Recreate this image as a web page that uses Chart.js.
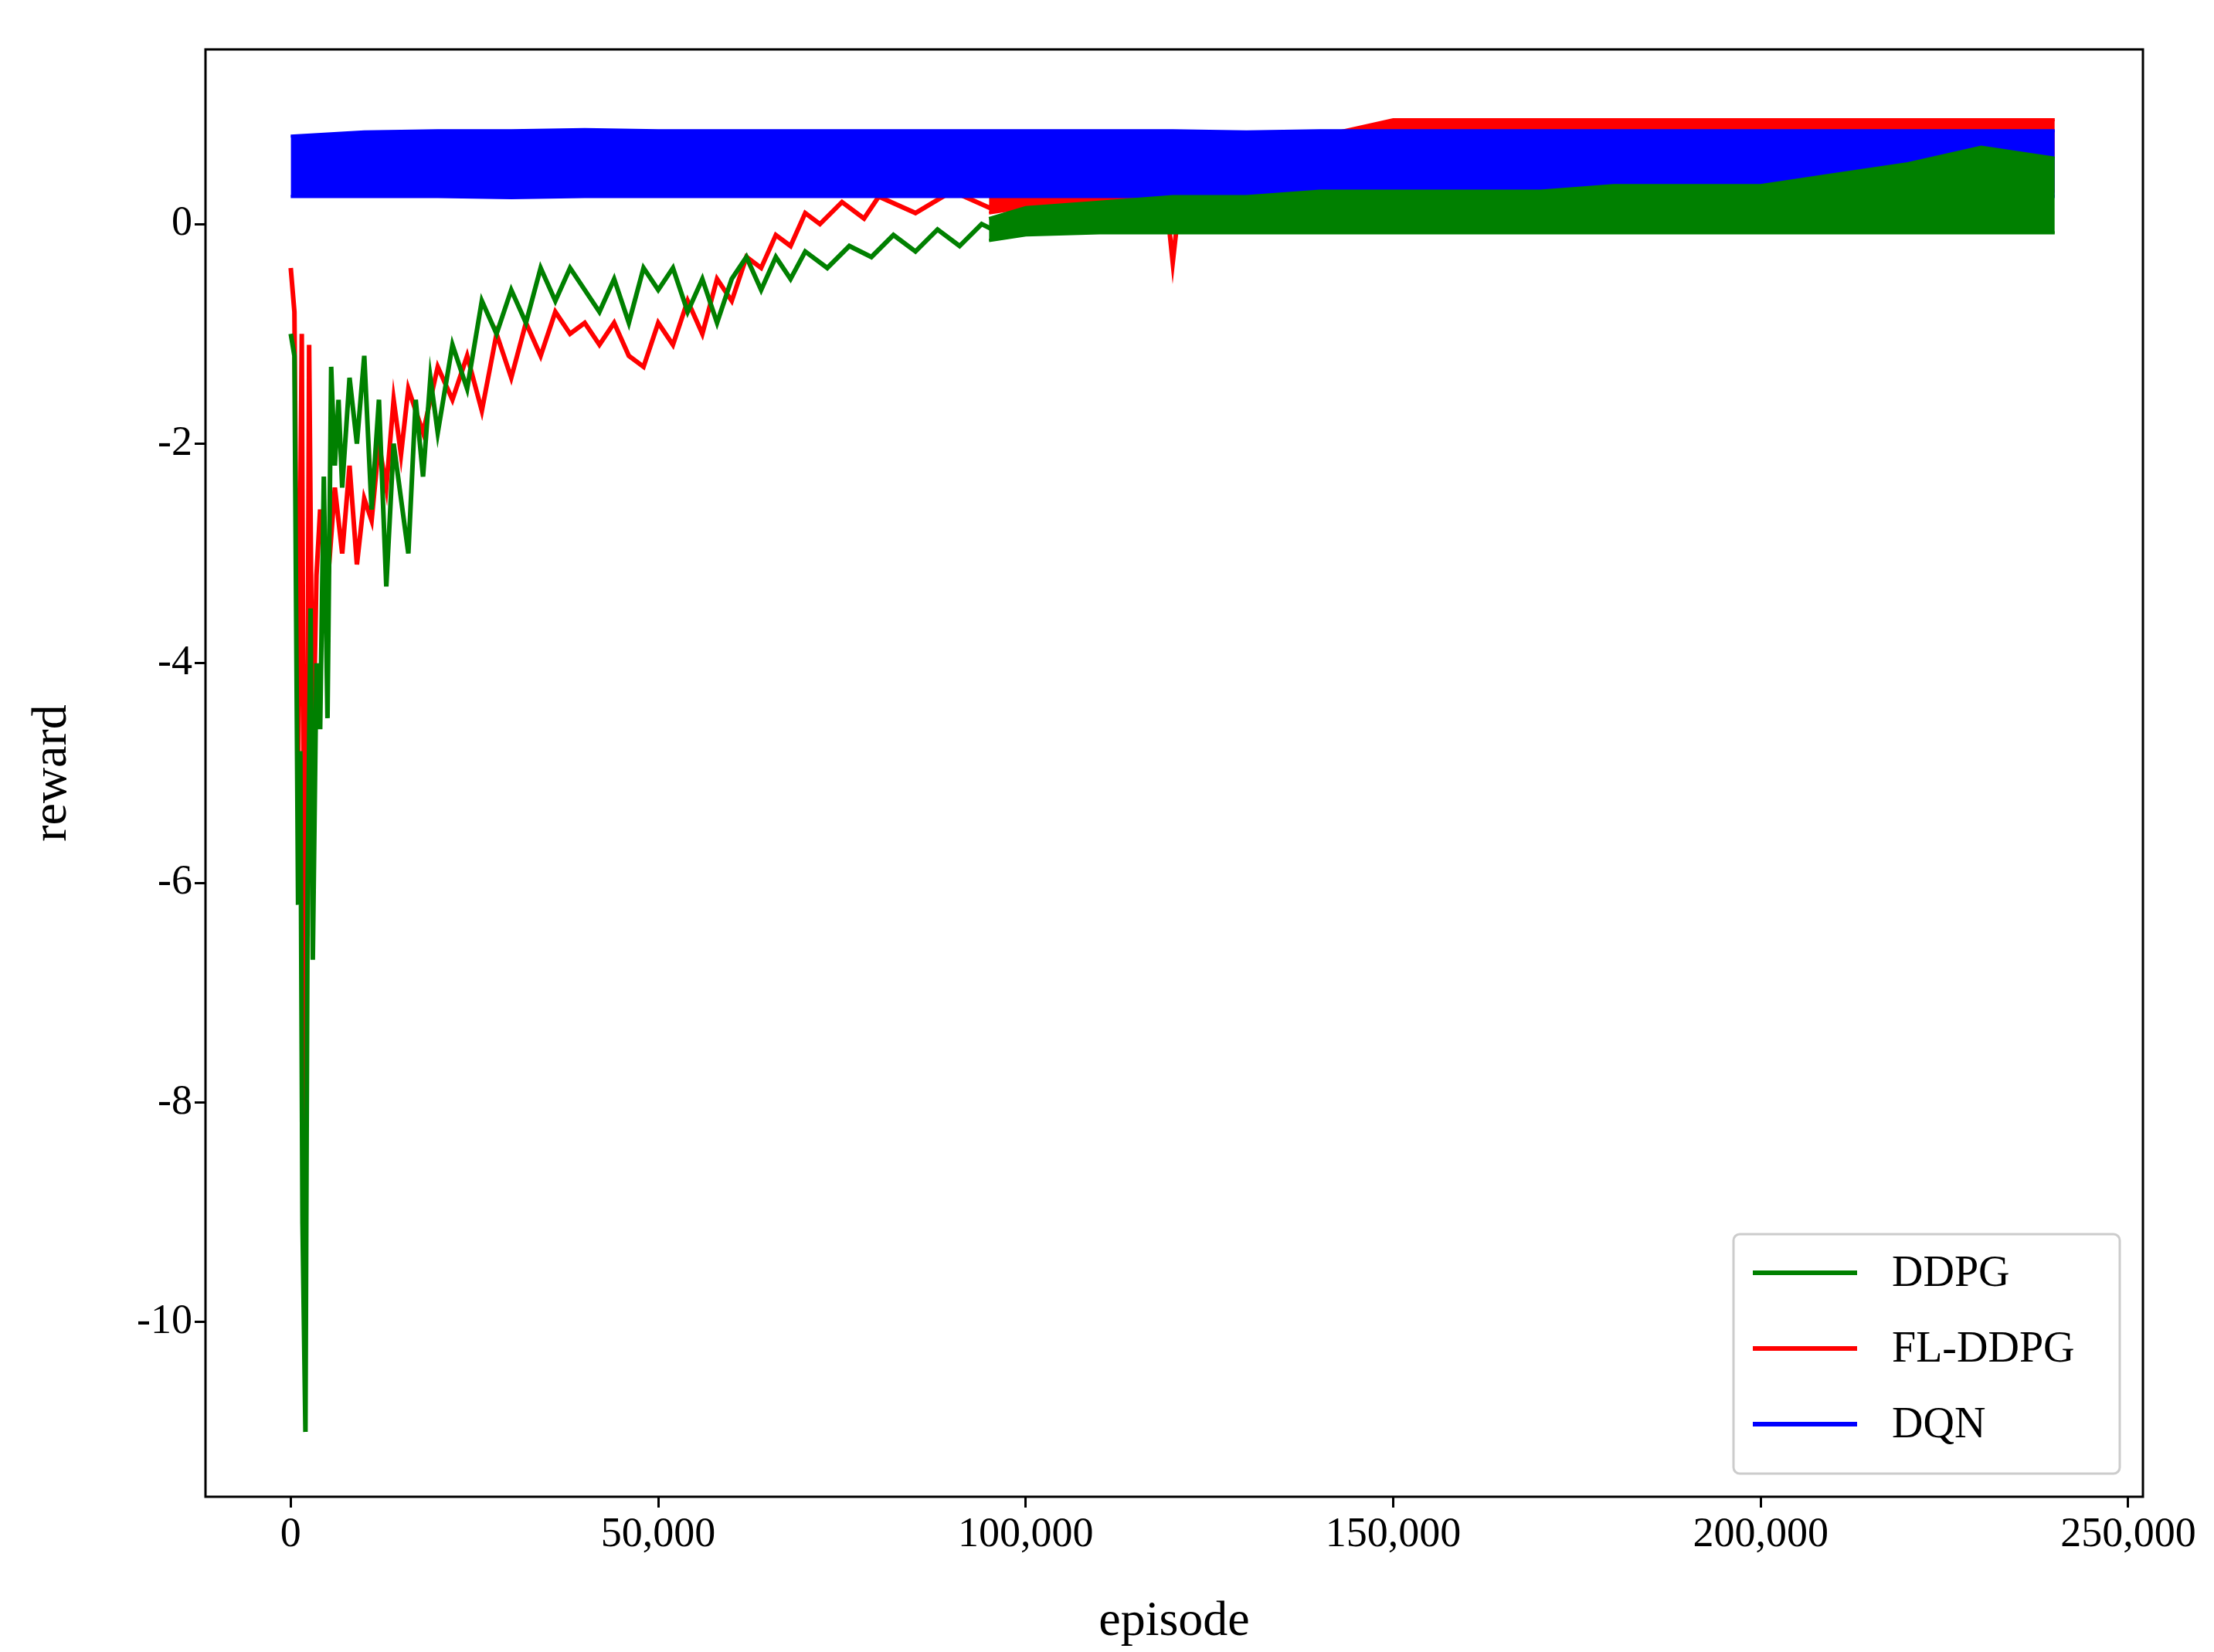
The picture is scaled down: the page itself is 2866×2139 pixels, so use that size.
<!DOCTYPE html>
<html><head><meta charset="utf-8">
<script src="https://cdn.jsdelivr.net/npm/chart.js@4.4.1/dist/chart.umd.min.js"></script>
<style>html,body{margin:0;padding:0;background:#fff}</style>
</head><body>
<canvas id="c" width="2866" height="2139"></canvas>
<script>
const xTicks = [0, 50000, 100000, 150000, 200000, 250000];
const yTicks = [-10, -8, -6, -4, -2, 0];
const seriesNames = ['DDPG', 'FL-DDPG', 'DQN'];

// early noisy curves
const ddpgX = [0,500,1000,1300,1600,2000,2300,2700,3000,3500,4000,4500,5000,5500,6000,6500,7000,8000,9000,10000,11000,12000,13000,14000,15000,16000,17000,18000,19000,20000,22000,24000,26000,28000,30000,32000,34000,36000,38000,40000,42000,44000,46000,48000,50000,52000,54000,56000,58000,60000,62000,64000,66000,68000,70000,73000,76000,79000,82000,85000,88000,91000,94000,97000,100000];
const ddpgY = [-1.0,-1.2,-6.2,-4.8,-9.1,-11.0,-6.0,-3.5,-6.7,-4.0,-4.6,-2.3,-4.5,-1.3,-2.2,-1.6,-2.4,-1.4,-2.0,-1.2,-2.6,-1.6,-3.3,-2.0,-2.5,-3.0,-1.6,-2.3,-1.4,-1.9,-1.1,-1.5,-0.7,-1.0,-0.6,-0.9,-0.4,-0.7,-0.4,-0.6,-0.8,-0.5,-0.9,-0.4,-0.6,-0.4,-0.8,-0.5,-0.9,-0.5,-0.3,-0.6,-0.3,-0.5,-0.25,-0.4,-0.2,-0.3,-0.1,-0.25,-0.05,-0.2,0.0,-0.1,0.0];
const flX = [0,500,1000,1500,2000,2500,3000,3500,4000,5000,6000,7000,8000,9000,10000,11000,12000,13000,14000,15000,16000,18000,20000,22000,24000,26000,28000,30000,32000,34000,36000,38000,40000,42000,44000,46000,48000,50000,52000,54000,56000,58000,60000,62000,64000,66000,68000,70000,72000,75000,78000,80000,85000,90000,95000,100000,105000,110000,115000,119000,120000,121000,125000];
const flY = [-0.4,-0.8,-5.0,-1.0,-9.1,-1.1,-5.0,-3.2,-2.6,-3.3,-2.4,-3.0,-2.2,-3.1,-2.5,-2.7,-2.0,-2.4,-1.6,-2.1,-1.5,-1.9,-1.3,-1.6,-1.2,-1.7,-1.0,-1.4,-0.9,-1.2,-0.8,-1.0,-0.9,-1.1,-0.9,-1.2,-1.3,-0.9,-1.1,-0.7,-1.0,-0.5,-0.7,-0.3,-0.4,-0.1,-0.2,0.1,0.0,0.2,0.05,0.25,0.1,0.3,0.15,0.3,0.2,0.35,0.25,0.3,-0.35,0.25,0.3];

// later noisy bands (upper / lower envelope)
const bandX = [95000,100000,110000,120000,130000,140000,150000,160000,170000,180000,190000,200000,210000,220000,230000,240000];
const ddpgHigh = [0.05,0.15,0.2,0.25,0.25,0.3,0.3,0.3,0.3,0.35,0.35,0.35,0.45,0.55,0.7,0.6];
const ddpgLow  = [-0.15,-0.1,-0.08,-0.08,-0.08,-0.08,-0.08,-0.08,-0.08,-0.08,-0.08,-0.08,-0.08,-0.08,-0.08,-0.08];
const flHigh = [0.3,0.4,0.5,0.6,0.7,0.8,0.95,0.95,0.95,0.95,0.95,0.95,0.95,0.95,0.95,0.95];
const flLow  = [0.1,0.15,0.2,0.2,0.25,0.25,0.3,0.3,0.3,0.3,0.3,0.3,0.3,0.3,0.25,0.3];
const dqnX = [0,10000,20000,30000,40000,50000,60000,70000,80000,90000,100000,110000,120000,130000,140000,150000,160000,170000,180000,190000,200000,210000,220000,230000,240000];
const dqnHigh = [0.8,0.84,0.85,0.85,0.86,0.85,0.85,0.85,0.85,0.85,0.85,0.85,0.85,0.84,0.85,0.85,0.85,0.85,0.85,0.85,0.85,0.85,0.85,0.85,0.85];
const dqnLow  = [0.25,0.25,0.25,0.24,0.25,0.25,0.25,0.25,0.25,0.25,0.25,0.25,0.25,0.25,0.25,0.25,0.25,0.25,0.25,0.25,0.25,0.25,0.25,0.25,0.25];

const pts = (xs, ys) => xs.map((x, i) => ({x, y: ys[i]}));
const FONT = 'Liberation Serif';
const line = (data, col, order) => ({data, borderColor: col, borderWidth: 6, pointRadius: 0, order, fill: false});
const band = (data, col, order, fill) => ({data, borderColor: col, backgroundColor: col, borderWidth: 4, pointRadius: 0, order, fill});

const boxPlugin = {
  id: 'box',
  afterDatasetsDraw(chart) {
    const {ctx, chartArea: a} = chart;
    ctx.save();
    ctx.strokeStyle = '#000'; ctx.lineWidth = 3;
    ctx.strokeRect(a.left, a.top, a.right - a.left, a.bottom - a.top);
    const w = 500, h = 310, x0 = a.right - 30 - w, y0 = a.bottom - 30 - h;
    ctx.fillStyle = 'rgba(255,255,255,0.9)';
    ctx.strokeStyle = '#ccc'; ctx.lineWidth = 3;
    ctx.beginPath(); ctx.roundRect(x0, y0, w, h, 8); ctx.fill(); ctx.stroke();
    const cols = ['green', 'red', 'blue'];
    ctx.font = '56px "' + FONT + '"'; ctx.textBaseline = 'middle'; ctx.fillStyle = '#000';
    seriesNames.forEach((n, i) => {
      const yy = y0 + 50 + i * 98;
      ctx.strokeStyle = cols[i]; ctx.lineWidth = 6;
      ctx.beginPath(); ctx.moveTo(x0 + 25, yy); ctx.lineTo(x0 + 160, yy); ctx.stroke();
      ctx.fillText(n, x0 + 205, yy + 2);
    });
    ctx.restore();
  }
};

new Chart(document.getElementById('c'), {
  type: 'line',
  data: { datasets: [
    band(pts(bandX, flHigh), 'red', 6, false),
    band(pts(bandX, flLow), 'red', 6, '-1'),
    line(pts(flX, flY), 'red', 5),
    band(pts(dqnX, dqnHigh), 'blue', 4, false),
    band(pts(dqnX, dqnLow), 'blue', 4, '-1'),
    band(pts(bandX, ddpgHigh), 'green', 2, false),
    band(pts(bandX, ddpgLow), 'green', 2, '-1'),
    line(pts(ddpgX, ddpgY), 'green', 1)
  ]},
  options: {
    responsive: false, animation: false,
    layout: {padding: {top: 64, right: 92}},
    plugins: {legend: {display: false}, tooltip: {enabled: false}},
    scales: {
      x: {type: 'linear', min: -11600, max: 252000,
        afterBuildTicks: s => { s.ticks = xTicks.map(v => ({value: v})); },
        afterFit: s => { s.height = 201; },
        grid: {drawOnChartArea: false, tickLength: 14, color: '#000', lineWidth: 3},
        border: {display: false},
        ticks: {color: '#000', font: {family: FONT, size: 54}, callback: v => v.toLocaleString('en-US')},
        title: {display: true, text: 'episode', color: '#000', font: {family: FONT, size: 64}, padding: 0}
      },
      y: {min: -11.59, max: 1.59,
        afterBuildTicks: s => { s.ticks = yTicks.map(v => ({value: v})); },
        afterFit: s => { s.width = 266; },
        grid: {drawOnChartArea: false, tickLength: 14, color: '#000', lineWidth: 3},
        border: {display: false},
        ticks: {color: '#000', font: {family: FONT, size: 54}, callback: v => String(v)},
        title: {display: true, text: 'reward', color: '#000', font: {family: FONT, size: 64}, padding: {top: 30, bottom: 10}}
      }
    }
  },
  plugins: [boxPlugin]
});
</script>
</body></html>
